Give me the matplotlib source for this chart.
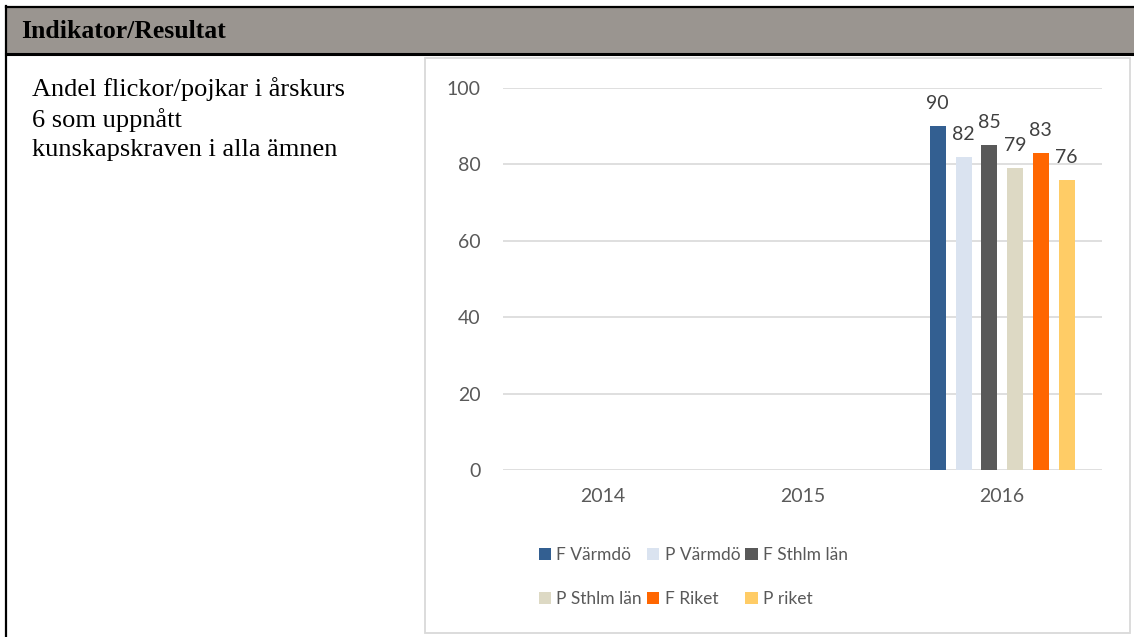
import numpy as np
import matplotlib.pyplot as plt
from matplotlib.patches import Rectangle, Patch

# data
years = ['2014', '2015', '2016']
series_names = ['F Värmdö', 'P Värmdö', 'F Sthlm län', 'P Sthlm län', 'F Riket', 'P riket']
f_varmdo = [np.nan, np.nan, 90]
p_varmdo = [np.nan, np.nan, 82]
f_sthlm = [np.nan, np.nan, 85]
p_sthlm = [np.nan, np.nan, 79]
f_riket = [np.nan, np.nan, 83]
p_riket = [np.nan, np.nan, 76]
series_values = [f_varmdo, p_varmdo, f_sthlm, p_sthlm, f_riket, p_riket]
colors = ['#335f91', '#dae3f0', '#595959', '#ddd9c4', '#ff6600', '#ffcc66']
yticks = [0, 20, 40, 60, 80, 100]

plt.rcParams['font.family'] = ['Lato', 'DejaVu Sans']

W, H = 1134, 637
fig = plt.figure(figsize=(W / 100, H / 100), dpi=100)

# background layer in pixel coordinates (table look)
bg = fig.add_axes([0, 0, 1, 1])
bg.set_xlim(0, W)
bg.set_ylim(H, 0)
bg.axis('off')
bg.add_patch(Rectangle((6, 7), W - 6, 47, facecolor='#9a9590', edgecolor='none'))
bg.plot([6, W], [7, 7], color='black', lw=1.6)
bg.plot([6, W], [53.5, 53.5], color='black', lw=2.2)
bg.plot([6, 6], [6, H], color='black', lw=1.6)
bg.add_patch(Rectangle((425, 58), 705, 575, facecolor='white', edgecolor='#d9d9d9', lw=1.3))

bg.text(21, 31, 'Indikator/Resultat', family='Liberation Serif', fontweight='bold',
        fontsize=18.5, va='center', ha='left', color='black')
bg.text(32, 77, 'Andel flickor/pojkar i årskurs\n6 som uppnått\nkunskapskraven i alla ämnen',
        family='Liberation Serif', fontsize=19, va='top', ha='left',
        color='black', linespacing=1.38)

# chart
ax = fig.add_axes([503 / W, (H - 470) / H, 599 / W, 382 / H])
ax.set_facecolor('none')
x = np.arange(len(years))
step = 0.129
width = 0.08
handles = []
for i, (name, vals, col) in enumerate(zip(series_names, series_values, colors)):
    pos = x + (i - 2.5) * step
    ax.bar(pos, vals, width=width, color=col, zorder=3)
    for px, v in zip(pos, vals):
        if not np.isnan(v):
            ax.annotate(f'{v:g}', (px, v), xytext=(0, 10), textcoords='offset points',
                        ha='center', va='bottom', fontsize=14, color='#404040')
    handles.append(Patch(facecolor=col, label=name))

ax.set_xlim(-0.5, 2.5)
ax.set_ylim(0, 100)
ax.set_yticks(yticks)
ax.set_xticks(x)
ax.set_xticklabels(years)
ax.yaxis.grid(True, color='#d9d9d9', lw=1.2, zorder=0)
ax.tick_params(axis='both', length=0, labelsize=14, labelcolor='#595959')
ax.tick_params(axis='y', pad=16)
ax.tick_params(axis='x', pad=13)
for s in ax.spines.values():
    s.set_visible(False)

order = [0, 3, 1, 4, 2, 5]
leg = fig.legend([handles[k] for k in order], [series_names[k] for k in order],
                 ncol=3, loc='center left', bbox_to_anchor=(539 / W, (H - 577) / H),
                 frameon=False, fontsize=12.5, handlelength=0.7, handleheight=0.7,
                 handletextpad=0.3, columnspacing=0.3, labelspacing=1.6,
                 borderpad=0, borderaxespad=0)
for t in leg.get_texts():
    t.set_color('#595959')

fig.savefig('out.png', dpi=100)
